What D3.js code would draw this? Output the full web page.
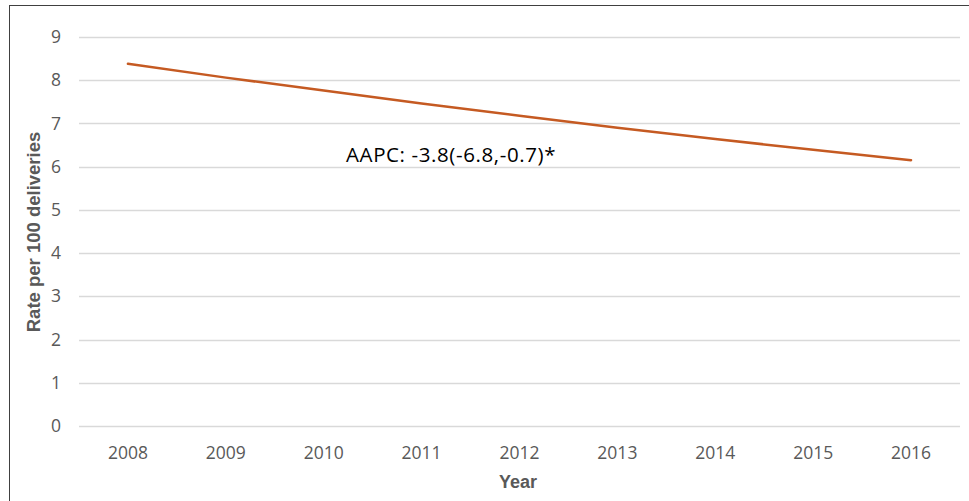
<!DOCTYPE html>
<html><head><meta charset="utf-8">
<script src="https://cdn.jsdelivr.net/npm/d3@7"></script>
<style>body{margin:0;background:#fff}svg{display:block}</style>
</head><body>
<script>
const years = ["2008","2009","2010","2011","2012","2013","2014","2015","2016"];
const rates = [8.38, 8.06, 7.76, 7.46, 7.18, 6.90, 6.64, 6.39, 6.15];
const yTicks = [0,1,2,3,4,5,6,7,8,9];
const annotation = "AAPC: -3.8(-6.8,-0.7)*";

const W = 969, H = 501;
const svg = d3.select("body").append("svg").attr("width", W).attr("height", H);
svg.append("rect").attr("x", 9.5).attr("y", 5.5).attr("width", W).attr("height", H)
  .attr("fill", "#fff").attr("stroke", "#404040").attr("stroke-width", 1);

const x = d3.scaleBand().domain(years).range([79, 960]);
const y = d3.scaleLinear().domain([0, 9]).range([426, 37]);

const grid = svg.append("g");
grid.selectAll("line").data(yTicks).join("line")
  .attr("x1", 79).attr("x2", 960)
  .attr("y1", d => Math.round(y(d)) + 0.5).attr("y2", d => Math.round(y(d)) + 0.5)
  .attr("stroke", "#d9d9d9").attr("stroke-width", 1.5);

const font = "'Open Sans', 'Liberation Sans', sans-serif";
const boldFont = "'Liberation Sans', Arial, sans-serif";
svg.append("g").selectAll("text").data(yTicks).join("text")
  .attr("x", 61).attr("y", d => y(d)).attr("dy", "0.35em")
  .attr("text-anchor", "end").attr("font-family", font).attr("font-size", 17.5)
  .attr("fill", "#595959").text(d => d);

svg.append("g").selectAll("text").data(years).join("text")
  .attr("x", d => x(d) + x.bandwidth() / 2).attr("y", 453).attr("dy", "0.35em")
  .attr("text-anchor", "middle").attr("font-family", font).attr("font-size", 17.5)
  .attr("fill", "#595959").text(d => d);

const line = d3.line().x((d, i) => x(years[i]) + x.bandwidth() / 2).y(d => y(d));
svg.append("path").datum(rates).attr("d", line)
  .attr("fill", "none").attr("stroke", "#c55a22").attr("stroke-width", 2.5)
  .attr("stroke-linecap", "round");

svg.append("text").attr("x", 346).attr("y", 162)
  .attr("font-family", font).attr("font-size", 20.5).attr("letter-spacing", 0.6)
  .attr("fill", "#000").text(annotation);

svg.append("text").attr("x", 518).attr("y", 482).attr("dy", "0.35em")
  .attr("text-anchor", "middle").attr("font-family", boldFont)
  .attr("font-weight", "bold").attr("font-size", 18).attr("fill", "#595959").text("Year");

svg.append("text").attr("transform", "translate(34,232) rotate(-90)").attr("dy", "0.35em")
  .attr("text-anchor", "middle").attr("font-family", boldFont)
  .attr("font-weight", "bold").attr("font-size", 18.5).attr("fill", "#595959").text("Rate per 100 deliveries");
</script>
</body></html>
